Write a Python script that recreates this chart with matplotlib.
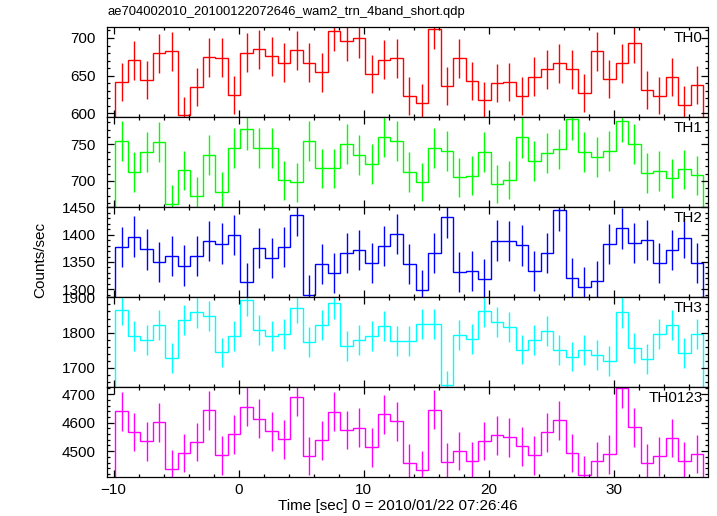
import numpy as np
import matplotlib
matplotlib.use("Agg")
import matplotlib.pyplot as plt
from matplotlib.ticker import MultipleLocator

plt.rcParams['font.family'] = ['Liberation Sans', 'DejaVu Sans']

title = "ae704002010_20100122072646_wam2_trn_4band_short.qdp"
xlabel = "Time [sec] 0 = 2010/01/22 07:26:46"
ylabel = "Counts/sec"

# bin centres (1 s bins)
t_first = -9.37
n_bins = 47
bin_width = 1.0

bands = ["TH0", "TH1", "TH2", "TH3", "TH0123"]
colors = ["#ff0000", "#00ff00", "#0000ff", "#00ffff", "#ff00ff"]

th0 = [641.6, 670.4, 644.2, 679.7, 682.3, 597.3, 634.5, 674.4, 673.9, 624.3, 680.5, 685.0, 675.7, 667.2,
       683.7, 667.2, 654.4, 709.7, 696.4, 699.6, 652.2, 670.8, 673.0, 622.6, 613.7, 711.5, 636.7, 673.4,
       643.3, 617.2, 640.7, 641.2, 622.6, 648.6, 658.4, 666.4, 658.4, 627.0, 682.3, 645.6, 666.4, 693.0,
       630.9, 623.4, 648.2, 611.4, 637.2]
th0_err = [25.3, 25.9, 25.4, 26.1, 26.1, 24.4, 25.2, 26.0, 26.0, 25.0, 26.1, 26.2, 26.0, 25.8, 26.1, 25.8,
           25.6, 26.6, 26.4, 26.5, 25.5, 25.9, 25.9, 25.0, 24.8, 26.7, 25.2, 25.9, 25.4, 24.8, 25.3, 25.3,
           25.0, 25.5, 25.7, 25.8, 25.7, 25.0, 26.1, 25.4, 25.8, 26.3, 25.1, 25.0, 25.5, 24.7, 25.2]

th1 = [754.1, 712.2, 739.5, 752.7, 668.1, 714.5, 679.0, 735.0, 685.3, 744.5, 770.5, 744.5, 745.4, 700.9,
       698.2, 754.1, 717.3, 717.3, 750.0, 735.4, 723.1, 760.0, 754.1, 712.2, 698.6, 744.5, 740.4, 705.0,
       707.2, 739.1, 695.8, 701.3, 759.5, 726.8, 737.7, 743.2, 784.1, 739.5, 732.3, 740.4, 781.4, 750.4,
       710.8, 713.6, 703.6, 715.9, 707.7]
th1_err = [27.5, 26.7, 27.2, 27.4, 25.8, 26.7, 26.1, 27.1, 26.2, 27.3, 27.8, 27.3, 27.3, 26.5, 26.4, 27.5,
           26.8, 26.8, 27.4, 27.1, 26.9, 27.6, 27.5, 26.7, 26.4, 27.3, 27.2, 26.6, 26.6, 27.2, 26.4, 26.5,
           27.6, 27.0, 27.2, 27.3, 28.0, 27.2, 27.1, 27.2, 28.0, 27.4, 26.7, 26.7, 26.5, 26.8, 26.6]

th2 = [1377.8, 1396.4, 1372.9, 1349.5, 1361.5, 1343.5, 1361.5, 1388.6, 1383.8, 1399.4, 1312.8, 1376.0,
       1357.9, 1377.8, 1436.1, 1289.9, 1345.8, 1330.2, 1367.0, 1372.4, 1348.2, 1379.6, 1401.2, 1346.4,
       1298.9, 1366.3, 1432.5, 1332.0, 1333.2, 1319.3, 1389.2, 1388.6, 1380.7, 1333.2, 1367.0, 1444.6,
       1320.6, 1304.3, 1315.2, 1383.2, 1412.1, 1385.0, 1390.4, 1348.2, 1372.4, 1394.0, 1348.2]
th2_err = [37.1, 37.4, 37.1, 36.7, 36.9, 36.7, 36.9, 37.3, 37.2, 37.4, 36.2, 37.1, 36.8, 37.1, 37.9, 35.9,
           36.7, 36.5, 37.0, 37.0, 36.7, 37.1, 37.4, 36.7, 36.0, 37.0, 37.8, 36.5, 36.5, 36.3, 37.3, 37.3,
           37.2, 36.5, 37.0, 38.0, 36.3, 36.1, 36.3, 37.2, 37.6, 37.2, 37.3, 36.7, 37.0, 37.3, 36.7]

th3 = [1864.6, 1790.7, 1778.7, 1821.6, 1728.0, 1836.5, 1857.3, 1846.9, 1743.8, 1790.7, 1891.9, 1808.4,
       1791.6, 1795.5, 1870.2, 1773.9, 1820.8, 1882.6, 1761.8, 1778.7, 1790.7, 1818.0, 1775.8, 1777.5,
       1825.3, 1823.6, 1651.1, 1792.7, 1781.5, 1860.1, 1829.2, 1816.0, 1752.2, 1778.7, 1803.9, 1750.6,
       1731.7, 1750.6, 1736.5, 1719.7, 1857.3, 1756.2, 1725.3, 1797.2, 1822.5, 1742.1, 1796.3]
th3_err = [43.2, 42.3, 42.2, 42.7, 41.6, 42.9, 43.1, 43.0, 41.8, 42.3, 43.5, 42.5, 42.3, 42.4, 43.2, 42.1,
           42.7, 43.4, 42.0, 42.2, 42.3, 42.6, 42.1, 42.2, 42.7, 42.7, 40.6, 42.3, 42.2, 43.1, 42.8, 42.6,
           41.9, 42.2, 42.5, 41.8, 41.6, 41.8, 41.7, 41.5, 43.1, 41.9, 41.5, 42.4, 42.7, 41.7, 42.4]

th0123 = [4640.0, 4567.0, 4534.2, 4601.2, 4436.5, 4492.9, 4531.7, 4643.6, 4484.8, 4558.9, 4655.2, 4614.1,
          4569.5, 4541.3, 4690.5, 4483.4, 4537.7, 4638.6, 4574.1, 4582.2, 4513.0, 4629.5, 4604.8, 4457.7,
          4435.4, 4644.6, 4461.2, 4501.1, 4464.7, 4535.3, 4555.4, 4548.3, 4516.6, 4484.8, 4565.9, 4608.3,
          4494.0, 4417.8, 4464.7, 4488.4, 4721.0, 4583.6, 4457.7, 4481.3, 4545.9, 4464.7, 4489.8]
th0123_err = [68.1, 67.6, 67.3, 67.8, 66.6, 67.0, 67.3, 68.1, 67.0, 67.5, 68.2, 67.9, 67.6, 67.4, 68.5, 67.0,
              67.4, 68.1, 67.6, 67.7, 67.2, 68.0, 67.9, 66.8, 66.6, 68.2, 66.8, 67.1, 66.8, 67.3, 67.5, 67.4,
              67.2, 67.0, 67.6, 67.9, 67.0, 66.5, 66.8, 67.0, 68.7, 67.7, 66.8, 66.9, 67.4, 66.8, 67.0]

series = [th0, th1, th2, th3, th0123]
errors = [th0_err, th1_err, th2_err, th3_err, th0123_err]
ylims = [(594.7, 714.2), (664.2, 786.8), (1285.5, 1450.5), (1646.0, 1900.5), (4409.3, 4724.7)]
ymajor = [50, 50, 50, 100, 100]
yminor = [10, 10, 10, 20, 20]

t = t_first + np.arange(n_bins) * bin_width
edges = np.append(t - bin_width / 2, t[-1] + bin_width / 2)

W, H = 717, 516
fig = plt.figure(figsize=(W / 100, H / 100), dpi=100)
left_px, right_px, top_px, bot_px = 107, 707.5, 27.3, 477.0
ph = (bot_px - top_px) / 5

fs = 11
for i in range(5):
    ax = fig.add_axes([left_px / W, 1 - (top_px + (i + 1) * ph) / H,
                       (right_px - left_px) / W, ph / H])
    c = colors[i]
    ax.stairs(series[i], edges, color=c, lw=1.0)
    ax.errorbar(t, series[i], yerr=errors[i], fmt='none', ecolor=c, elinewidth=1.0, capsize=0)
    ax.set_xlim(-10.53, 37.47)
    ax.set_ylim(*ylims[i])
    ax.xaxis.set_major_locator(MultipleLocator(10))
    ax.xaxis.set_minor_locator(MultipleLocator(2))
    ax.yaxis.set_major_locator(MultipleLocator(ymajor[i]))
    ax.yaxis.set_minor_locator(MultipleLocator(yminor[i]))
    ax.tick_params(which='both', direction='in', top=True, right=True, width=0.9, labelsize=fs)
    ax.tick_params(which='major', length=5)
    ax.tick_params(which='minor', length=2.5)
    ax.tick_params(axis='y', pad=8)
    ax.tick_params(axis='x', pad=4)
    for s in ax.spines.values():
        s.set_linewidth(0.9)
    if i < 4:
        ax.tick_params(labelbottom=False)
    ax.text(0.992, 0.88, bands[i], transform=ax.transAxes, ha='right', va='center', fontsize=fs)

fig.text(left_px / W, 1 - 12 / H, title, ha='left', va='center', fontsize=9.4)
fig.text(398 / W, 1 - 506 / H, xlabel, ha='center', va='center', fontsize=fs)
fig.text(40 / W, 1 - 260 / H, ylabel, ha='center', va='center', rotation=90, fontsize=fs)

fig.savefig("out.png", dpi=100)
